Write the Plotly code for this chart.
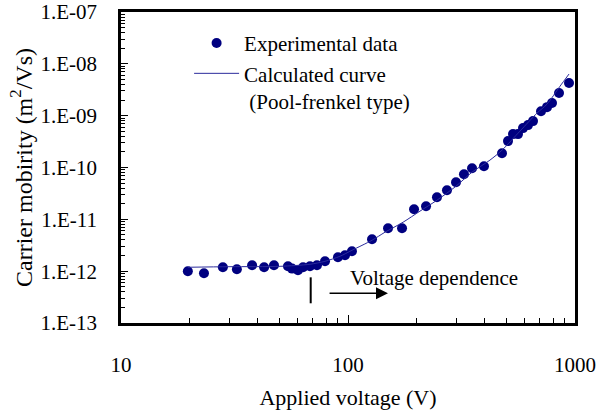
import math
import plotly.graph_objects as go

# ---- data ----
voltage_exp = [19.7, 23.2, 28.1, 32.4, 37.8, 42.7, 47.2, 54.4, 56.7, 60.2,
               63.4, 68.0, 73.0, 79.2, 90.3, 97.0, 104.1, 127.6, 150.1, 173.0,
               195.4, 220.7, 246.6, 272.9, 299.1, 324.3, 351.9, 397.2, 476.9, 506.8,
               533.2, 561.0, 590.2, 620.9, 653.1, 708.5, 752.9, 792.0, 850.4, 941.0]
mobility_exp = [1.00e-12, 0.91e-12, 1.19e-12, 1.09e-12, 1.30e-12, 1.19e-12, 1.30e-12, 1.24e-12, 1.12e-12, 1.04e-12,
                1.19e-12, 1.24e-12, 1.30e-12, 1.55e-12, 1.85e-12, 2.03e-12, 2.42e-12, 4.13e-12, 6.73e-12, 6.73e-12,
                1.57e-11, 1.79e-11, 2.67e-11, 3.65e-11, 5.21e-11, 7.43e-11, 9.7e-11, 1.06e-10, 1.89e-10, 3.23e-10,
                4.41e-10, 4.41e-10, 5.75e-10, 6.58e-10, 7.85e-10, 1.22e-9, 1.46e-9, 1.75e-9, 2.73e-9, 4.26e-9]

voltage_calc = [19.7, 30.2, 50.2, 68.0, 79.2, 92.2, 104.1, 127.6, 145.5, 174.8,
                207.6, 246.6, 299.1, 351.9, 422.2, 476.9, 572.4, 680.1, 752.9, 859.0, 941.0]
mobility_calc = [1.19e-12, 1.22e-12, 1.24e-12, 1.36e-12, 1.55e-12, 1.94e-12, 2.53e-12, 3.95e-12, 5.64e-12, 8.80e-12,
                 1.44e-11, 2.34e-11, 4.36e-11, 8.13e-11, 1.39e-10, 2.16e-10, 5.04e-10, 1.12e-9, 1.67e-9, 3.7e-9, 6.35e-9]

x_tick_vals = [10, 100, 1000]
x_tick_text = ["10", "100", "1000"]
y_tick_vals = [1e-13, 1e-12, 1e-11, 1e-10, 1e-9, 1e-8, 1e-7]
y_tick_text = ["1.E-13", "1.E-12", "1.E-11", "1.E-10", "1.E-09", "1.E-08", "1.E-07"]

# annotation: onset marker and arrow
onset_voltage = 68.5
onset_marker_y = [7.6e-13, 2.4e-13]
arrow_start_v = 81.7
arrow_end_v = 150.0
arrow_y = 3.74e-13
label_v = 100.0
label_y = 7.3e-13
label_text = "Voltage dependence"

FONT = "serif"

fig = go.Figure()

fig.add_trace(go.Scatter(
    x=voltage_exp, y=mobility_exp, mode="markers",
    name="Experimental data",
    marker=dict(color="#000080", size=10, line=dict(width=0)),
))
fig.add_trace(go.Scatter(
    x=voltage_calc, y=mobility_calc, mode="lines",
    name="Calculated curve<br> (Pool-frenkel type)",
    line=dict(color="#2b2b9c", width=1, shape="spline", smoothing=0.8),
))
fig.add_trace(go.Scatter(
    x=[onset_voltage, onset_voltage], y=onset_marker_y, mode="lines",
    line=dict(color="black", width=2), showlegend=False, hoverinfo="skip",
))

fig.add_annotation(
    x=math.log10(arrow_end_v), y=math.log10(arrow_y),
    ax=math.log10(arrow_start_v), ay=math.log10(arrow_y),
    xref="x", yref="y", axref="x", ayref="y",
    text="", showarrow=True, arrowhead=2, arrowsize=1.6, arrowwidth=1.5,
    arrowcolor="black",
)
fig.add_annotation(
    x=math.log10(label_v), y=math.log10(label_y), xref="x", yref="y",
    text=label_text, showarrow=False, xanchor="left", yanchor="middle",
    font=dict(family=FONT, size=21, color="black"),
)

minor_x = [m * 10 ** d for d in (1, 2) for m in range(2, 10)]
minor_y = [m * 10.0 ** d for d in range(-13, -7) for m in range(2, 10)]

fig.update_layout(
    width=611, height=410,
    margin=dict(l=121, r=36, t=12, b=87),
    paper_bgcolor="white", plot_bgcolor="white",
    font=dict(family=FONT, size=21, color="black"),
    showlegend=True,
    legend=dict(
        x=0.15, y=0.965, xanchor="left", yanchor="top",
        bgcolor="rgba(0,0,0,0)", font=dict(family=FONT, size=21, color="black"),
        itemwidth=45, valign="top", tracegroupgap=0,
    ),
    xaxis=dict(
        type="log", range=[1, 3], automargin=False,
        tickmode="array", tickvals=x_tick_vals, ticktext=x_tick_text,
        ticks="inside", ticklen=8, tickwidth=1, tickcolor="black",
        showline=True, linecolor="black", linewidth=2.5, mirror=True,
        showgrid=False, zeroline=False, ticklabelstandoff=21,
        minor=dict(tickmode="array", tickvals=minor_x, ticks="inside",
                   ticklen=5, tickwidth=1, tickcolor="black", showgrid=False),
        title=dict(text="Applied voltage (V)", font=dict(family=FONT, size=22), standoff=14),
    ),
    yaxis=dict(
        type="log", range=[-13, -7], automargin=False,
        tickmode="array", tickvals=y_tick_vals, ticktext=y_tick_text,
        ticks="inside", ticklen=7, tickwidth=1, tickcolor="black",
        showline=True, linecolor="black", linewidth=2.5, mirror=True,
        showgrid=False, zeroline=False, ticklabelstandoff=17,
        minor=dict(tickmode="array", tickvals=minor_y, ticks="inside",
                   ticklen=4, tickwidth=1, tickcolor="black", showgrid=False),
        title=dict(text="Carrier mobirity (m<sup>2</sup>/Vs)", font=dict(family=FONT, size=24), standoff=2),
    ),
)

fig.write_html("out.html")
